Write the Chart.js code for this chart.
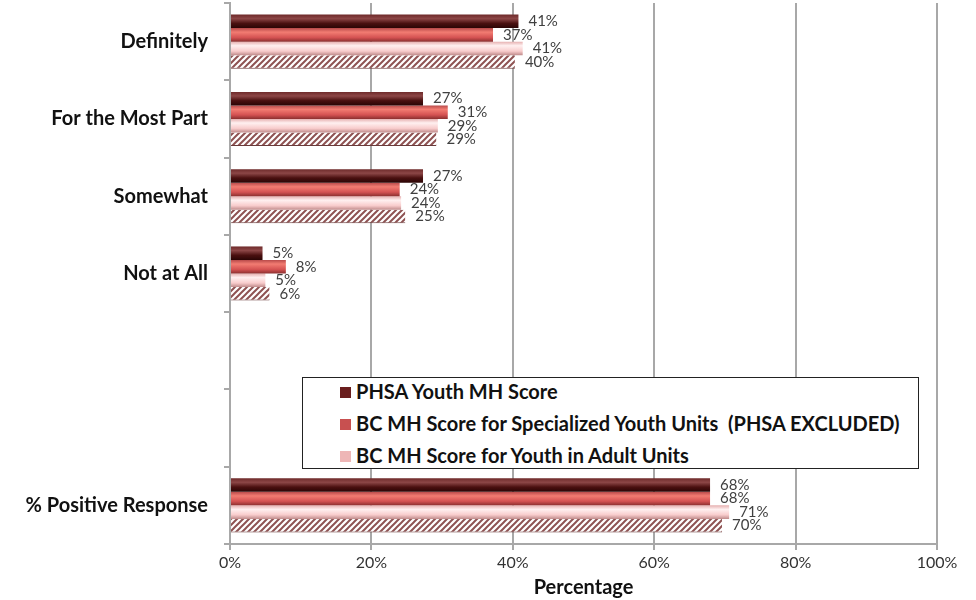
<!DOCTYPE html>
<html lang="en">
<head>
    <meta charset="UTF-8">
    <title>Youth MH Scores</title>
    <script src="https://cdnjs.cloudflare.com/ajax/libs/Chart.js/4.4.1/chart.umd.min.js"></script>
    <style>
        body {
            margin: 0;
            padding: 0;
            background-color: #ffffff;
            font-family: Lato, "Open Sans", sans-serif;
        }
        .wrap {
            position: relative;
            width: 976px;
            height: 600px;
        }
        .legend {
            position: absolute;
            left: 302px;
            top: 377px;
            width: 615px;
            height: 90px;
            background-color: #ffffff;
            border: 1px solid #222;
        }
        .legend-item {
            position: absolute;
            left: 37px;
            height: 24px;
            line-height: 24px;
            font-size: 20px;
            font-weight: bold;
            color: #111;
            white-space: pre;
        }
        .legend-item span {
            display: inline-block;
            width: 11px;
            height: 11px;
            margin-right: 5px;
            vertical-align: 1px;
        }
    </style>
</head>
<body>
    <div class="wrap">
        <canvas id="chart" width="976" height="600"></canvas>
        <div class="legend" id="legend"></div>
    </div>

    <script>
        // categories (two blank slots leave room for the legend)
        const categories = ['Definitely', 'For the Most Part', 'Somewhat', 'Not at All', '', '', '% Positive Response'];

        // series values in percent
        const phsaYouth = [40.8, 27.3, 27.3, 4.6, null, null, 67.9];
        const bcSpecialized = [37.2, 30.8, 24.0, 7.9, null, null, 67.9];
        const bcAdultUnits = [41.4, 29.4, 24.2, 5.0, null, null, 70.6];
        const bcOverall = [40.3, 29.2, 24.8, 5.6, null, null, 69.6];

        const seriesNames = [
            'PHSA Youth MH Score',
            'BC MH Score for Specialized Youth Units  (PHSA EXCLUDED)',
            'BC MH Score for Youth in Adult Units',
            'BC MH Score Overall'
        ];

        const xTicks = [0, 20, 40, 60, 80, 100];

        const fontFamily = 'Lato, "Open Sans", sans-serif';

        // hatched fill for the last series
        function makeHatch() {
            const c = document.createElement('canvas');
            c.width = 6;
            c.height = 6;
            const g = c.getContext('2d');
            g.fillStyle = '#ffffff';
            g.fillRect(0, 0, 6, 6);
            g.strokeStyle = '#8e5252';
            g.lineWidth = 2;
            g.beginPath();
            g.moveTo(0, 6); g.lineTo(6, 0);
            g.moveTo(-1, 1); g.lineTo(1, -1);
            g.moveTo(5, 7); g.lineTo(7, 5);
            g.stroke();
            return g.createPattern(c, 'repeat');
        }

        // cylinder-like shading, built once the bar has a position
        function shaded(flat, stops) {
            return function (context) {
                const el = context.element;
                if (!el || el.y == null || !el.height) {
                    return flat;
                }
                const ctx = context.chart.ctx;
                const top = el.y - el.height / 2;
                const grad = ctx.createLinearGradient(0, top, 0, top + el.height);
                stops.forEach(s => grad.addColorStop(s[0], s[1]));
                return grad;
            };
        }

        const hatch = makeHatch();

        // value labels at the end of each bar
        const valueLabels = {
            id: 'valueLabels',
            afterDatasetsDraw(chart) {
                const ctx = chart.ctx;
                ctx.save();
                ctx.font = '15px ' + fontFamily;
                ctx.fillStyle = '#404040';
                ctx.textBaseline = 'middle';
                ctx.textAlign = 'left';
                chart.data.datasets.forEach((ds, i) => {
                    const meta = chart.getDatasetMeta(i);
                    meta.data.forEach((bar, j) => {
                        const v = ds.data[j];
                        if (v == null) return;
                        ctx.fillText(Math.round(v) + '%', bar.x + 10, bar.y);
                    });
                });
                ctx.restore();
            }
        };

        const chart = new Chart(document.getElementById('chart'), {
            type: 'bar',
            data: {
                labels: categories,
                datasets: [
                    {
                        label: seriesNames[0],
                        data: phsaYouth,
                        legendColor: '#6a1e1e',
                        backgroundColor: shaded('#5a1717', [[0, '#6e2a2a'], [0.3, '#8c4646'], [0.65, '#4a1010'], [1, '#2a0505']])
                    },
                    {
                        label: seriesNames[1],
                        data: bcSpecialized,
                        legendColor: '#c85050',
                        backgroundColor: shaded('#d45454', [[0, '#b84a4a'], [0.3, '#f27c72'], [0.7, '#d45252'], [1, '#8c3030']])
                    },
                    {
                        label: seriesNames[2],
                        data: bcAdultUnits,
                        legendColor: '#eeb6b6',
                        backgroundColor: shaded('#f6c8c8', [[0, '#e6b0b0'], [0.3, '#fff0f0'], [0.7, '#f8cccc'], [1, '#c08c8c']])
                    },
                    {
                        label: seriesNames[3],
                        data: bcOverall,
                        legendColor: '#b07070',
                        backgroundColor: hatch,
                        borderColor: '#6a3a3a',
                        borderWidth: { top: 0, right: 0, left: 0, bottom: 1 },
                        borderSkipped: false
                    }
                ]
            },
            options: {
                indexAxis: 'y',
                responsive: false,
                animation: false,
                categoryPercentage: 0.7,
                barPercentage: 1.0,
                layout: {
                    padding: { top: 3, right: 39, left: 0, bottom: 0 }
                },
                plugins: {
                    legend: { display: false },
                    tooltip: { enabled: false }
                },
                scales: {
                    x: {
                        min: 0,
                        max: 100,
                        afterBuildTicks(scale) {
                            scale.ticks = xTicks.map(v => ({ value: v }));
                        },
                        afterFit(scale) {
                            scale.height = 56;
                        },
                        ticks: {
                            callback: v => v + '%',
                            color: '#333',
                            padding: 3,
                            font: { family: fontFamily, size: 16 }
                        },
                        grid: {
                            color: '#a8a8a8',
                            lineWidth: 2,
                            tickLength: 6
                        },
                        border: { color: '#a8a8a8', width: 2 },
                        title: {
                            display: true,
                            text: 'Percentage',
                            color: '#111',
                            padding: { top: 0, bottom: 0 },
                            font: { family: fontFamily, size: 20, weight: 'bold' }
                        }
                    },
                    y: {
                        afterFit(scale) {
                            scale.width = 230;
                            // no extra room above/below the first and last bands
                            scale.paddingTop = 0;
                            scale.paddingBottom = 0;
                        },
                        ticks: {
                            color: '#111',
                            padding: 16,
                            font: { family: fontFamily, size: 20, weight: 'bold' }
                        },
                        grid: {
                            offset: true,
                            drawOnChartArea: false,
                            color: '#a8a8a8',
                            lineWidth: 2,
                            tickLength: 6
                        },
                        border: { color: '#a8a8a8', width: 2 }
                    }
                }
            },
            plugins: [valueLabels]
        });

        // second pass so the shading knows where each bar sits
        chart.update('none');

        // legend box, only the first three series are listed
        const legend = document.getElementById('legend');
        chart.data.datasets.slice(0, 3).forEach((ds, i) => {
            const item = document.createElement('div');
            item.className = 'legend-item';
            item.style.top = (1 + i * 32) + 'px';
            const box = document.createElement('span');
            box.style.backgroundColor = ds.legendColor;
            item.appendChild(box);
            item.appendChild(document.createTextNode(ds.label));
            legend.appendChild(item);
        });
    </script>
</body>
</html>
